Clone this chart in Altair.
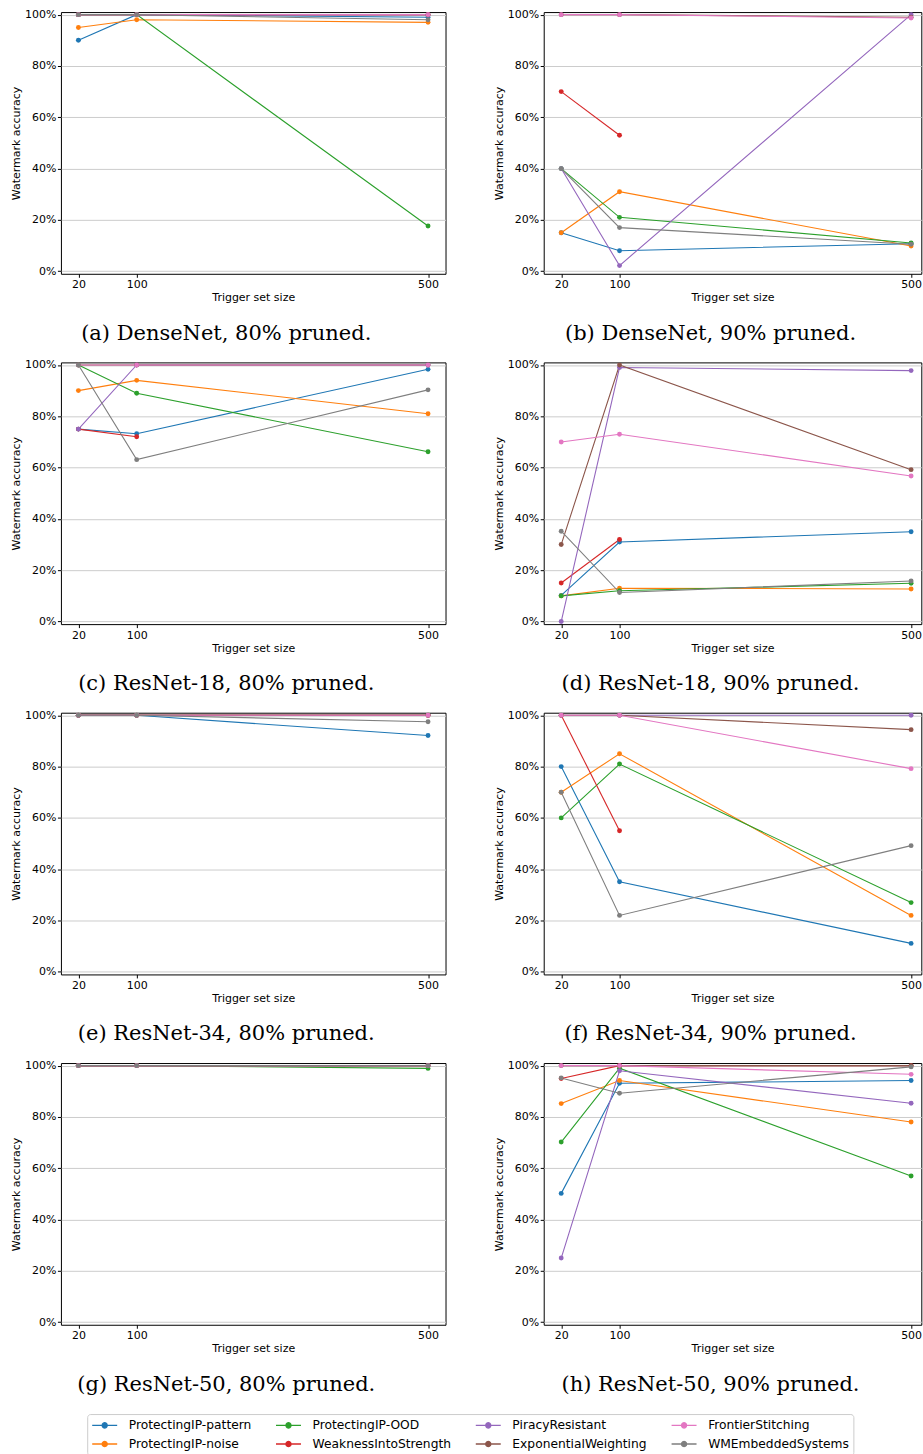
import altair as alt
import pandas as pd

sizes = [20, 100, 500]
methods = ["ProtectingIP-pattern", "ProtectingIP-noise", "ProtectingIP-OOD",
           "WeaknessIntoStrength", "PiracyResistant", "ExponentialWeighting",
           "FrontierStitching", "WMEmbeddedSystems"]
colors = ["#1f77b4", "#ff7f0e", "#2ca02c", "#d62728",
          "#9467bd", "#8c564b", "#e377c2", "#7f7f7f"]
captions = ["(a) DenseNet, 80% pruned.", "(b) DenseNet, 90% pruned.",
            "(c) ResNet-18, 80% pruned.", "(d) ResNet-18, 90% pruned.",
            "(e) ResNet-34, 80% pruned.", "(f) ResNet-34, 90% pruned.",
            "(g) ResNet-50, 80% pruned.", "(h) ResNet-50, 90% pruned."]

# accuracy per method (rows in `methods` order) at sizes 20, 100, 500; None = not measured
densenet_80 = [[0.90, 1.00, 0.99], [0.95, 0.98, 0.97], [1.00, 1.00, 0.176], [1.00, 1.00, 1.00],
               [1.00, 1.00, 1.00], [1.00, 1.00, 1.00], [1.00, 1.00, 1.00], [1.00, 1.00, 0.98]]
densenet_90 = [[0.15, 0.08, 0.107], [0.15, 0.31, 0.098], [0.40, 0.21, 0.11], [0.70, 0.53, None],
               [0.40, 0.022, 1.00], [1.00, 1.00, 0.99], [1.00, 1.00, 0.987], [0.40, 0.17, 0.105]]
resnet18_80 = [[0.75, 0.732, 0.983], [0.90, 0.94, 0.81], [1.00, 0.89, 0.662], [0.75, 0.72, None],
               [0.75, 1.00, 1.00], [1.00, 1.00, 1.00], [1.00, 1.00, 1.00], [1.00, 0.631, 0.903]]
resnet18_90 = [[0.102, 0.31, 0.35], [0.10, 0.13, 0.127], [0.10, 0.12, 0.149], [0.15, 0.32, None],
               [0.00, 0.99, 0.978], [0.30, 1.00, 0.592], [0.70, 0.73, 0.567], [0.352, 0.113, 0.158]]
resnet34_80 = [[1.00, 1.00, 0.921], [1.00, 1.00, 1.00], [1.00, 1.00, 1.00], [1.00, 1.00, 1.00],
               [1.00, 1.00, 1.00], [1.00, 1.00, 1.00], [1.00, 1.00, 1.00], [1.00, 1.00, 0.975]]
resnet34_90 = [[0.80, 0.351, 0.111], [0.70, 0.85, 0.22], [0.60, 0.81, 0.27], [1.00, 0.55, None],
               [1.00, 1.00, 1.00], [1.00, 1.00, 0.944], [1.00, 1.00, 0.792], [0.70, 0.22, 0.492]]
resnet50_80 = [[1.00, 1.00, 1.00], [1.00, 1.00, 1.00], [1.00, 1.00, 0.989], [1.00, 1.00, 1.00],
               [1.00, 1.00, 1.00], [1.00, 1.00, 1.00], [1.00, 1.00, 1.00], [1.00, 1.00, 1.00]]
resnet50_90 = [[0.502, 0.931, 0.942], [0.852, 0.942, 0.78], [0.702, 0.99, 0.57], [0.95, 1.00, 1.00],
               [0.25, 0.98, 0.853], [1.00, 1.00, 1.00], [1.00, 1.00, 0.966], [0.952, 0.892, 0.995]]

panels = [densenet_80, densenet_90, resnet18_80, resnet18_90,
          resnet34_80, resnet34_90, resnet50_80, resnet50_90]

rows = []
for p, table in enumerate(panels):
    for m, vals in zip(methods, table):
        for s, v in zip(sizes, vals):
            if v is not None:
                rows.append({"panel": p, "method": m, "size": s, "acc": v})
df = pd.DataFrame(rows)

W = 385
H = 262
# legend glyph: a 25px line with a dot in its middle (symbol box is 12px)
sym = "M-1,0L3.1667,0M0.667,0A0.4167,0.4167,0,1,0,1.5,0A0.4167,0.4167,0,1,0,0.667,0Z"


def panel(p):
    right = p % 2 == 1
    width = 378 if right else W
    xmax = 514 if right else 524
    base = alt.Chart(df).transform_filter(alt.datum.panel == p)
    x = alt.X("size:Q",
              scale=alt.Scale(domain=[-4, xmax], nice=False, zero=False),
              axis=alt.Axis(values=sizes, title="Trigger set size", grid=False))
    y = alt.Y("acc:Q",
              scale=alt.Scale(domain=[-0.01, 1.01], nice=False, zero=False),
              axis=alt.Axis(values=[0, 0.2, 0.4, 0.6, 0.8, 1.0], format=".0%",
                            title="Watermark accuracy", grid=True))
    color = alt.Color("method:N",
                      scale=alt.Scale(domain=methods, range=colors),
                      legend=alt.Legend(title=None, orient="none", columns=4,
                                        legendX=26.3, legendY=1403.5,
                                        symbolType=sym, symbolSize=144,
                                        symbolStrokeWidth=1.4,
                                        labelFont="DejaVu Sans", labelFontSize=12.3,
                                        labelColor="#000000", labelOffset=23.6,
                                        columnPadding=21, rowPadding=5,
                                        padding=4, strokeColor="#cccccc",
                                        fillColor="#ffffff", cornerRadius=3))
    lines = base.mark_line(strokeWidth=1.1, clip=True).encode(x=x, y=y, color=color)
    pts = base.mark_point(filled=True, size=24, opacity=1, clip=True).encode(x=x, y=y, color=color)
    return alt.layer(lines, pts).properties(
        width=width, height=H,
        title=alt.TitleParams(captions[p], orient="bottom", anchor="middle",
                              font="DejaVu Serif", fontSize=21, fontWeight="normal",
                              color="#000000", offset=20, dx=-22 if right else -27))


chart = alt.concat(*[panel(p) for p in range(8)], columns=2,
                   spacing={"row": 88.7, "column": 98.3}, bounds="flush", align="each").properties(
    padding={"left": 10, "top": 7.3, "right": 0, "bottom": 0}
).configure_view(stroke="#000000", strokeWidth=1).configure_axis(
    labelFont="DejaVu Sans", labelFontSize=11, labelColor="#000000",
    titleFont="DejaVu Sans", titleFontSize=11, titleFontWeight="normal", titleColor="#000000",
    domain=False, tickColor="#000000", tickSize=3.5, tickWidth=1,
    labelPadding=1.5, titlePadding=3, gridColor="#cccccc", gridWidth=1
).configure_axisX(titlePadding=2)

chart.save("out.html", embed_options={"renderer": "svg", "actions": False})
